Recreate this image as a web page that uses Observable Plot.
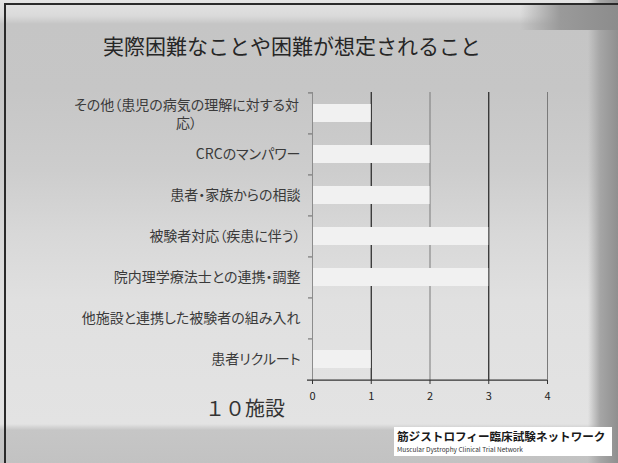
<!DOCTYPE html>
<html>
<head>
<meta charset="utf-8">
<script src="https://cdn.jsdelivr.net/npm/d3@7"></script>
<script src="https://cdn.jsdelivr.net/npm/@observablehq/plot@0.6"></script>
<style>
  html, body { margin: 0; padding: 0; background: #ffffff; }
  #slide {
    position: absolute; left: 0; top: 0; width: 618px; height: 463px; overflow: hidden;
    background: linear-gradient(to bottom, #e4e4e4 0px, #dadada 16px, #c5c5c5 24px, #c6c6c6 90px,
      #cdcdcd 170px, #d8d8d8 235px, #e0e0e0 300px, #e3e3e3 424px, #c6c6c6 430px, #c2c2c2 463px);
    font-family: "Noto Sans CJK JP", "Noto Sans", sans-serif;
  }
  #deco {
    position: absolute; left: 560px; top: 0; width: 58px; height: 463px;
    background: linear-gradient(to right, rgba(150,150,150,0) 0px, rgba(150,150,150,0) 28px, #a6a6a6 40px, #8f8f8f 58px);
  }
  #deco2 {
    position: absolute; left: 520px; top: 4px; width: 98px; height: 26px;
    background: linear-gradient(to right, rgba(140,140,140,0) 0px, #9a9a9a 40px, #8c8c8c 98px);
  }
  #frame {
    position: absolute; left: 4px; top: 3px; width: 620px; height: 470px;
    border-top: 2px solid #2a2a2a; border-left: 2px solid #2a2a2a;
  }
  #title {
    position: absolute; left: 0; top: 31px; width: 584px; text-align: center;
    font-size: 21px; line-height: 28px; color: #262626;
  }
  #chart { position: absolute; left: 0; top: 0; }
  #chart svg { font-feature-settings: "palt"; }
  #unit {
    position: absolute; left: 205px; top: 396px; font-size: 20px; line-height: 24px; color: #333;
  }
  #logo {
    position: absolute; left: 394px; top: 427px; width: 218px; height: 29px; background: #ffffff;
  }
  #logo .jp {
    position: absolute; left: 3px; top: 2px; font-size: 11.6px; line-height: 14px; font-weight: 700;
    color: #1a1a1a; white-space: nowrap; letter-spacing: 0px;
  }
  #logo .en {
    position: absolute; left: 3px; top: 18px; font-size: 6.5px; line-height: 8px; color: #333; white-space: nowrap;
  }
</style>
</head>
<body>
<div id="slide">
  <div id="deco"></div>
  <div id="deco2"></div>
  <div id="frame"></div>
  <div id="title">実際困難なことや困難が想定されること</div>
  <div id="chart"></div>
  <div id="unit">１０施設</div>
  <div id="logo">
    <div class="jp">筋ジストロフィー臨床試験ネットワーク</div>
    <div class="en">Muscular Dystrophy Clinical Trial Network</div>
  </div>
</div>
<script>
// ---- data ----
const categories = [
  "その他（患児の病気の理解に対する対\n応）",
  "CRCのマンパワー",
  "患者・家族からの相談",
  "被験者対応（疾患に伴う）",
  "院内理学療法士との連携・調整",
  "他施設と連携した被験者の組み入れ",
  "患者リクルート"
];
const counts = [1, 2, 2, 3, 3, 0, 1];
const xTicks = [0, 1, 2, 3, 4];
const darkGrid = [1, 3];
const lightGrid = [2, 4];

// ---- layout ----
const W = 618, H = 463;
const mTop = 92, mBottom = 83, mLeft = 312, mRight = 71;
const step = (H - mTop - mBottom) / categories.length;
const wrapped = categories[0];

const data = categories.map((c, i) => ({category: c, count: counts[i]}));

const chart = Plot.plot({
  width: W,
  height: H,
  marginTop: mTop,
  marginBottom: mBottom,
  marginLeft: mLeft,
  marginRight: mRight,
  style: {
    background: "transparent",
    fontFamily: "'Noto Sans CJK JP', 'Noto Sans', sans-serif",
    color: "#333"
  },
  x: {domain: [0, 4], ticks: xTicks},
  y: {domain: categories, paddingInner: 0.56, paddingOuter: 0.28},
  marks: [
    Plot.ruleX(lightGrid, {stroke: "#7a7a7a", strokeWidth: 1}),
    Plot.ruleX(darkGrid, {stroke: "#222", strokeWidth: 1.2}),
    Plot.barX(data, {x: "count", y: "category", fill: "#f1f1f1"}),
    Plot.ruleX([0], {stroke: "#8c8c8c", strokeWidth: 1}),
    Plot.ruleY(categories, {y: d => d, x1: 0, x2: 0, insetLeft: -4, dy: -step / 2, stroke: "#666"}),
    Plot.ruleY([categories[categories.length - 1]], {y: d => d, x1: 0, x2: 4, insetLeft: -5, dy: step / 2, stroke: "#333", strokeWidth: 1.2}),
    Plot.axisX({ticks: xTicks, tickFormat: d3.format("d"), tickSize: 4, tickPadding: 8, fontSize: 11, label: null, stroke: "#333", fill: "#222"}),
    Plot.axisY({tickSize: 0, tickPadding: 12, fontSize: 14, label: null, fill: "#3a3a3a",
      tickFormat: d => d === wrapped ? "" : d}),
    Plot.text([wrapped], {x: d => 0, y: d => d, text: d => d, textAnchor: "middle", dx: -126,
      fontSize: 14, lineHeight: 1.3, fill: "#3a3a3a"})
  ]
});
document.getElementById("chart").appendChild(chart);
</script>
</body>
</html>
